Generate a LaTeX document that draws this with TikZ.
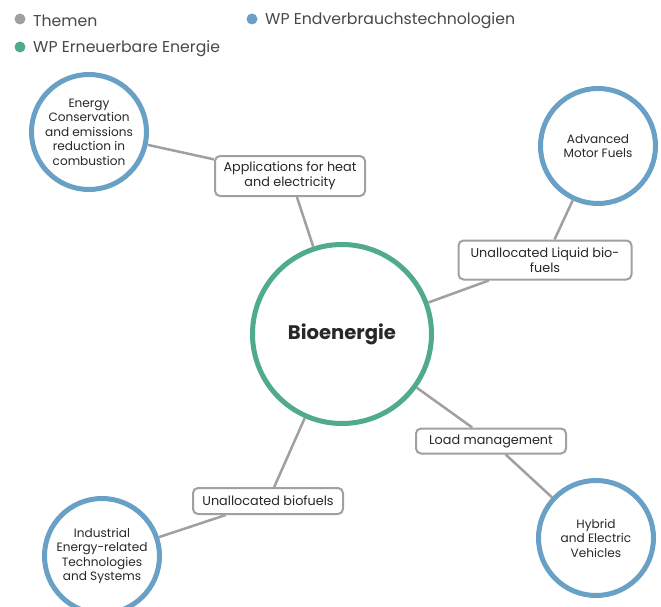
\documentclass[tikz,border=0pt]{standalone}
\usepackage{fontspec}
\setmainfont{Poppins}
\begin{document}
\definecolor{themegrey}{RGB}{160,160,162}
\definecolor{wpblue}{RGB}{104,161,197}
\definecolor{wpgreen}{RGB}{80,170,140}
\definecolor{txt}{RGB}{40,40,40}
\begin{tikzpicture}[x=1pt,y=-1pt,
  every node/.style={text=txt},
  wpcircle/.style={circle,draw=wpblue,line width=5pt,fill=white,minimum size=115pt,inner sep=0pt,align=center,font=\fontsize{12.1}{14.5}\selectfont},
  hubcircle/.style={circle,draw=wpgreen,line width=5pt,fill=white,minimum size=179pt,inner sep=0pt,font=\bfseries\fontsize{19.6}{22}\selectfont},
  topicbox/.style={rectangle,rounded corners=5pt,draw=themegrey,line width=2pt,fill=white,align=center,inner sep=2pt,font=\fontsize{12.8}{15}\selectfont},
  link/.style={draw=themegrey,line width=2.5pt},
  legdot/.style={circle,inner sep=0pt,minimum size=11pt},
  legtext/.style={anchor=west,inner sep=0pt,text=txt!85,font=\fontsize{15.7}{17}\selectfont}]
\useasboundingbox (0,0) rectangle (661,607);
\clip (0,0) rectangle (661,607);

% legend
\node[legdot,fill=themegrey] (l1) at (20,19) {};
\node[legtext] (l1t) at (33,21) {Themen};
\node[legdot,fill=wpblue] (l2) at (252,19) {};
\node[legtext] (l2t) at (265,21) {WP Endverbrauchstechnologien};
\node[legdot,fill=wpgreen] (l3) at (20,47) {};
\node[legtext] (l3t) at (33,49) {WP Erneuerbare Energie};

% central topic and work packages
\node[hubcircle] (bio) at (342,334) {Bioenergie};
\node[wpcircle] (ec) at (89,132) {Energy\\Conservation\\and emissions\\reduction in\\combustion};
\node[wpcircle] (amf) at (598,146) {Advanced\\Motor Fuels};
\node[wpcircle] (iet) at (102,556) {Industrial\\Energy-related\\Technologies\\and Systems};
\node[wpcircle] (hev) at (596,538) {Hybrid\\and Electric\\Vehicles};

% themes
\node[topicbox,minimum width=150pt,minimum height=40pt] (app) at (290,176) {Applications for heat\\and electricity};
\node[topicbox,minimum width=173pt,minimum height=39pt] (ulb) at (545,260) {Unallocated Liquid bio-\\fuels};
\node[topicbox,minimum width=150pt,minimum height=25pt] (lm) at (491,441) {Load management};
\node[topicbox,minimum width=150pt,minimum height=26pt] (ub) at (268,501) {Unallocated biofuels};

% connectors
\path[link] (ec) -- (app);
\path[link] (app) -- (bio);
\path[link] (amf) -- (ulb);
\path[link] (ulb) -- (bio);
\path[link] (bio) -- (lm);
\path[link] (lm) -- (hev);
\path[link] (bio) -- (ub);
\path[link] (ub) -- (iet);
\end{tikzpicture}
\end{document}
